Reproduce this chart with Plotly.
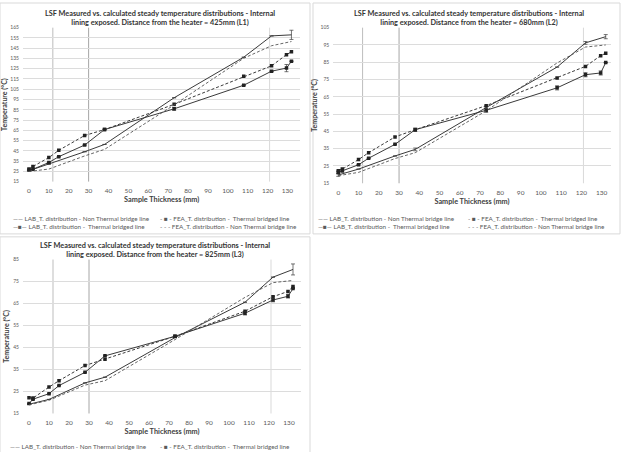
import plotly.graph_objects as go

# ---------------- data ----------------
x_nontb = [0, 10, 28, 38, 73, 108, 122, 132]
x_tb = [0, 2, 10, 15, 28, 38, 73, 108, 122, 129.5, 132]
layer_boundaries = [12, 30, 121]

# L1 (425 mm)
l1_lab_nontb = [25.6, 32.0, 44.1, 51.2, 96.7, 136.2, 157.0, 158.0]
l1_fea_nontb = [24.9, 27.2, 40.0, 46.4, 89.7, 135.2, 147.4, 151.5]
l1_lab_tb = [26.2, 27.0, 33.6, 39.3, 50.6, 65.7, 85.9, 108.9, 122.6, 125.6, 132.3]
l1_fea_tb = [27.2, 29.7, 38.4, 45.5, 59.9, 65.7, 90.3, 117.6, 127.8, 138.7, 141.5]
l1_lab_nontb_err = [0, 0, 0, 0, 0, 0, 0, 4.5]
l1_lab_tb_err = [0, 0, 0, 0, 0, 0, 1.5, 0, 0, 3.5, 0]

# L2 (680 mm)
l2_lab_nontb = [19.8, 23.2, 30.8, 34.6, 58.8, 82.2, 96.2, 99.8]
l2_fea_nontb = [19.4, 21.3, 29.3, 32.7, 56.9, 84.6, 93.8, 95.0]
l2_lab_tb = [21.3, 22.2, 25.7, 29.5, 37.5, 46.0, 57.2, 70.2, 77.8, 78.8, 84.8]
l2_fea_tb = [22.2, 23.2, 28.7, 32.7, 41.8, 46.0, 59.9, 75.9, 82.6, 88.8, 90.2]
l2_lab_nontb_err = [0.8, 0, 0, 0.8, 0.8, 0, 0.8, 1.2]
l2_lab_tb_err = [0.8, 0.8, 0, 0, 0, 1.0, 1.2, 1.2, 1.2, 1.2, 0]

# L3 (825 mm)
l3_lab_nontb = [19.2, 21.4, 28.9, 31.5, 49.5, 65.6, 77.0, 80.5]
l3_fea_nontb = [18.9, 21.0, 27.9, 29.9, 48.6, 67.8, 74.5, 75.5]
l3_lab_tb = [19.5, 21.5, 24.0, 27.7, 33.7, 41.2, 50.1, 60.6, 66.6, 68.3, 71.8]
l3_fea_tb = [22.2, 22.0, 27.0, 29.9, 36.8, 39.7, 50.1, 61.5, 68.1, 70.5, 72.7]
l3_lab_nontb_err = [0, 0, 0, 0, 0, 0, 0, 2.5]
l3_lab_tb_err = [0, 0, 0, 0, 0, 0, 0, 0.8, 0.8, 0.8, 0]

series_names = [
    "LAB_T. distribution - Non Thermal bridge line",
    "FEA_T. distribution -  Thermal bridged line",
    "LAB_T. distribution -  Thermal bridged line",
    "FEA_T. distribution - Non Thermal bridge line",
]
legend_samples = ["\u2014\u2014", "- \u25a0 -", "\u2014\u25a0\u2014", "- - -"]

titles = [
    "LSF Measured vs. calculated steady temperature distributions - Internal<br>lining exposed. Distance from the heater = 425mm (L1)",
    "LSF Measured vs. calculated steady temperature distributions - Internal<br>lining exposed. Distance from the heater = 680mm (L2)",
    "LSF Measured vs. calculated steady temperature distributions - Internal<br>lining exposed. Distance from the heater = 825mm (L3)",
]
y_ranges = [[15, 165], [15, 105], [15, 85]]

# ---------------- layout geometry ----------------
W, H = 624, 452
def px(v):
    return v / W
def py(v):
    return 1 - v / H

panels = [
    dict(xd=[23.0, 300.4], yd=[181, 25], xr=[-3, 136.5]),
    dict(xd=[333.2, 610.8], yd=[182.7, 25], xr=[-2.5, 134.5]),
    dict(xd=[23.0, 301.0], yd=[416, 260], xr=[-3, 136]),
]

fig = go.Figure()
dark = "#3a3a3a"
grey_txt = "#595959"

datasets = [
    (l1_lab_nontb, l1_fea_tb, l1_lab_tb, l1_fea_nontb, l1_lab_nontb_err, l1_lab_tb_err),
    (l2_lab_nontb, l2_fea_tb, l2_lab_tb, l2_fea_nontb, l2_lab_nontb_err, l2_lab_tb_err),
    (l3_lab_nontb, l3_fea_tb, l3_lab_tb, l3_fea_nontb, l3_lab_nontb_err, l3_lab_tb_err),
]

for i, (lab_n, fea_t, lab_t, fea_n, err_n, err_t) in enumerate(datasets):
    xa = "x" if i == 0 else f"x{i+1}"
    ya = "y" if i == 0 else f"y{i+1}"
    eb = dict(thickness=0.7, width=2, color=dark)
    fig.add_trace(go.Scatter(x=x_nontb, y=lab_n, mode="lines", name=series_names[0],
                             line=dict(color=dark, width=1),
                             error_y=dict(type="data", array=err_n, **eb),
                             xaxis=xa, yaxis=ya, showlegend=False))
    fig.add_trace(go.Scatter(x=x_tb, y=fea_t, mode="lines+markers", name=series_names[1],
                             line=dict(color=dark, width=1, dash="3px,2px"),
                             marker=dict(symbol="square", size=3.5, color="#222"),
                             xaxis=xa, yaxis=ya, showlegend=False))
    fig.add_trace(go.Scatter(x=x_tb, y=lab_t, mode="lines+markers", name=series_names[2],
                             line=dict(color=dark, width=1),
                             marker=dict(symbol="square", size=3.5, color="#222"),
                             error_y=dict(type="data", array=err_t, **eb),
                             xaxis=xa, yaxis=ya, showlegend=False))
    fig.add_trace(go.Scatter(x=x_nontb, y=fea_n, mode="lines", name=series_names[3],
                             line=dict(color="#555", width=0.9, dash="3px,2px"),
                             xaxis=xa, yaxis=ya, showlegend=False))

layout = dict(
    width=W, height=H, margin=dict(l=0, r=0, t=0, b=0),
    paper_bgcolor="white", plot_bgcolor="white",
    font=dict(family="Lato, Carlito, sans-serif", color=grey_txt),
    showlegend=False,
)

for i, p in enumerate(panels):
    xk = "xaxis" if i == 0 else f"xaxis{i+1}"
    yk = "yaxis" if i == 0 else f"yaxis{i+1}"
    ya = "y" if i == 0 else f"y{i+1}"
    xa = "x" if i == 0 else f"x{i+1}"
    layout[xk] = dict(
        domain=[px(p["xd"][0]), px(p["xd"][1])], range=p["xr"], anchor=ya,
        tick0=0, dtick=10, showgrid=False, zeroline=False, showline=False,
        ticks="outside", ticklen=3, tickcolor="rgba(0,0,0,0)",
        tickfont=dict(size=6.5, color=grey_txt),
        title=dict(text="<b>Sample Thickness (mm)</b>", font=dict(size=7.3, color="#404040"), standoff=3),
    )
    layout[yk] = dict(
        domain=[py(p["yd"][0]), py(p["yd"][1])], range=y_ranges[i], anchor=xa,
        tick0=15, dtick=10, showgrid=True, gridcolor="#dcdcdc", gridwidth=0.8,
        zeroline=False, showline=False,
        ticks="outside", ticklen=2, tickcolor="rgba(0,0,0,0)",
        tickfont=dict(size=5, color=grey_txt),
        title=dict(text="<b>Temperature (°C)</b>", font=dict(size=7, color="#404040"), standoff=2),
    )

fig.update_layout(**layout)

shapes = []
line_cols = ["#bdbdbd", "#a6a6a6", "#d9d9d9"]
for i in range(3):
    xa = "x" if i == 0 else f"x{i+1}"
    ya = "y" if i == 0 else f"y{i+1}"
    for j, xb in enumerate(layer_boundaries):
        shapes.append(dict(type="line", xref=xa, yref=f"{ya} domain", x0=xb, x1=xb, y0=0, y1=1,
                           line=dict(color=line_cols[j], width=1), layer="below"))
# chart frames
for (x0, y0, x1, y1) in [(0, 0, 310, 234), (313, 0, 620, 234), (0, 237, 310, 460)]:
    shapes.append(dict(type="rect", xref="paper", yref="paper", x0=px(x0), x1=px(x1),
                       y0=py(y1), y1=py(y0), line=dict(color="#d9d9d9", width=1)))
fig.update_layout(shapes=shapes)

ann = []
title_pos = [(160, 15), (469, 15), (155, 250)]
for t, (cx, cy) in zip(titles, title_pos):
    ann.append(dict(text="<b>" + t + "</b>", x=px(cx), y=py(cy),
                    xref="paper", yref="paper", showarrow=False, xanchor="center", yanchor="middle",
                    font=dict(size=7.3, color="#333333")))

legend_pos = [
    [(11, 218), (158, 218), (11, 227), (158, 227)],
    [(316, 218), (466, 218), (316, 227), (466, 227)],
    [(8, 449), (158, 449)],
]
for entries in legend_pos:
    for k, (lx, ly) in enumerate(entries):
        ann.append(dict(text=legend_samples[k] + " " + series_names[k], x=px(lx), y=py(ly),
                        xref="paper", yref="paper", showarrow=False, xanchor="left", yanchor="middle",
                        font=dict(size=6.3, color=grey_txt)))
fig.update_layout(annotations=ann)

fig.write_html("out.html")
